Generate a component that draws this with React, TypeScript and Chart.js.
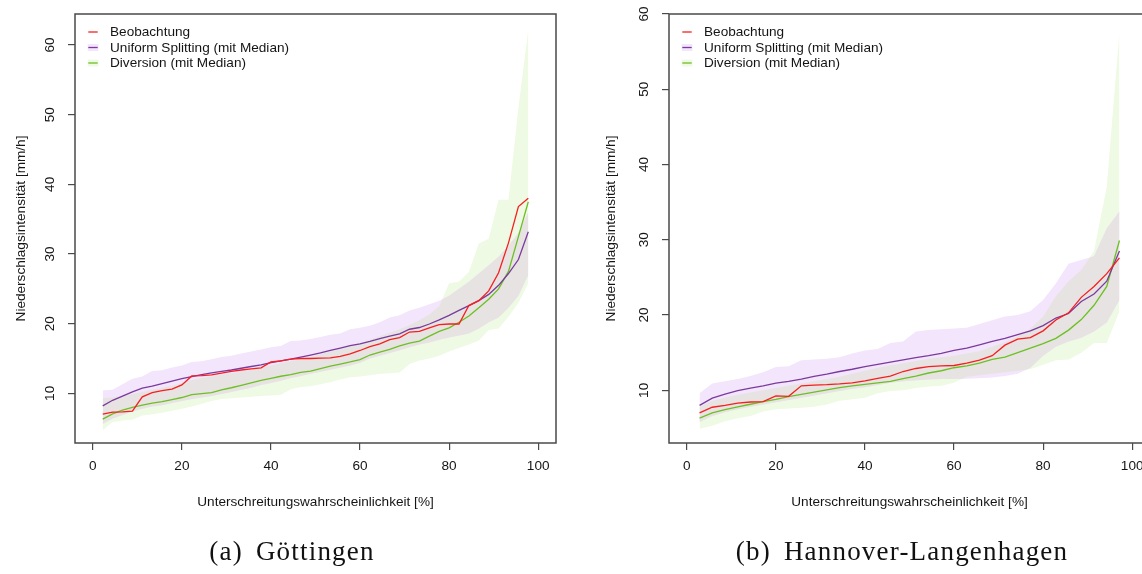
import React, { useEffect, useRef } from "react";
import { Chart, registerables } from "chart.js";

Chart.register(...registerables);

// ---------- text ----------
const xTickValues = [0, 20, 40, 60, 80, 100];
const yTickValues = [10, 20, 30, 40, 50, 60];
const legendLabels = ["Beobachtung", "Uniform Splitting (mit Median)", "Diversion (mit Median)"];
const xTitle = "Unterschreitungswahrscheinlichkeit [%]";
const yTitle = "Niederschlagsintensität [mm/h]";
const captionA = ["(a)", "Göttingen"];
const captionB = ["(b)", "Hannover-Langenhagen"];

// ---------- Göttingen (a) ----------
const gotPos = [2.22, 4.44, 6.67, 8.89, 11.11, 13.33, 15.56, 17.78, 20.0, 22.22, 24.44, 26.67, 28.89, 31.11, 33.33, 35.56, 37.78, 40.0, 42.22, 44.44, 46.67, 48.89, 51.11, 53.33, 55.56, 57.78, 60.0, 62.22, 64.44, 66.67, 68.89, 71.11, 73.33, 75.56, 77.78, 80.0, 82.22, 84.44, 86.67, 88.89, 91.11, 93.33, 95.56, 97.78];
const gotObs = [7.0, 7.3, 7.35, 7.45, 9.5, 10.1, 10.4, 10.6, 11.2, 12.5, 12.55, 12.65, 12.9, 13.15, 13.35, 13.5, 13.65, 14.5, 14.65, 14.9, 15.0, 15.0, 15.05, 15.1, 15.3, 15.65, 16.15, 16.7, 17.1, 17.7, 18.0, 18.8, 18.9, 19.4, 19.85, 19.95, 19.95, 22.6, 23.3, 24.7, 27.3, 31.6, 36.8, 38.0];
const gotUS = [8.2, 9.0, 9.6, 10.2, 10.75, 11.05, 11.4, 11.75, 12.1, 12.4, 12.7, 12.95, 13.15, 13.35, 13.6, 13.85, 14.1, 14.4, 14.65, 14.9, 15.2, 15.5, 15.8, 16.15, 16.5, 16.85, 17.1, 17.45, 17.85, 18.2, 18.55, 19.2, 19.45, 19.95, 20.55, 21.2, 21.9, 22.6, 23.3, 24.2, 25.5, 27.2, 29.2, 33.2];
const gotUSHi = [10.4, 10.5, 11.3, 12.1, 12.4, 13.2, 13.3, 13.7, 14.0, 14.5, 14.6, 14.9, 15.2, 15.4, 15.7, 16.0, 16.3, 16.6, 16.8, 17.5, 17.6, 17.8, 18.1, 18.4, 18.6, 19.2, 19.4, 19.7, 20.2, 20.9, 21.2, 21.9, 22.3, 22.8, 23.3, 24.0, 25.0, 26.0, 27.2, 28.4, 29.6, 31.2, 33.0, 36.0];
const gotUSLo = [5.6, 6.4, 6.9, 7.4, 7.8, 8.1, 8.3, 8.6, 8.9, 9.2, 9.4, 9.6, 9.9, 10.2, 10.5, 10.8, 11.2, 11.5, 11.8, 12.2, 12.5, 12.8, 13.1, 13.4, 13.7, 14.0, 14.4, 15.0, 15.4, 15.8, 16.2, 16.6, 17.0, 17.3, 17.7, 18.0, 18.3, 18.6, 19.3, 20.2, 20.9, 22.3, 24.0, 27.0];
const gotDiv = [6.3, 7.05, 7.6, 8.0, 8.3, 8.6, 8.8, 9.1, 9.4, 9.8, 9.95, 10.1, 10.5, 10.8, 11.15, 11.5, 11.85, 12.15, 12.45, 12.7, 13.0, 13.2, 13.55, 13.9, 14.2, 14.5, 14.85, 15.5, 15.9, 16.3, 16.8, 17.2, 17.5, 18.2, 18.9, 19.4, 20.2, 21.1, 22.3, 23.5, 25.0, 27.5, 32.5, 37.5];
const gotDivHi = [9.3, 9.4, 9.6, 9.9, 10.2, 10.5, 10.8, 11.1, 11.5, 11.9, 12.2, 12.4, 12.7, 12.9, 13.1, 13.4, 13.7, 14.0, 14.3, 14.6, 14.9, 15.2, 15.6, 16.0, 16.4, 16.8, 17.2, 17.7, 18.2, 18.7, 19.2, 19.8, 20.5, 21.3, 22.5, 25.8, 26.0, 27.4, 31.5, 32.2, 37.8, 37.8, 51.0, 62.2];
const gotDivLo = [4.7, 5.9, 6.1, 6.2, 6.8, 7.0, 7.2, 7.5, 7.8, 8.1, 8.5, 8.9, 9.2, 9.3, 9.4, 9.5, 9.6, 9.7, 9.8, 10.6, 10.9, 11.0, 11.3, 11.6, 12.0, 12.3, 12.4, 12.6, 12.8, 12.9, 13.0, 14.2, 14.7, 15.0, 15.4, 16.0, 16.5, 17.0, 17.6, 19.1, 19.3, 21.0, 23.0, 25.8];

// ---------- Hannover-Langenhagen (b) ----------
const hanPos = [2.86, 5.71, 8.57, 11.43, 14.29, 17.14, 20.0, 22.86, 25.71, 28.57, 31.43, 34.29, 37.14, 40.0, 42.86, 45.71, 48.57, 51.43, 54.29, 57.14, 60.0, 62.86, 65.71, 68.57, 71.43, 74.29, 77.14, 80.0, 82.86, 85.71, 88.57, 91.43, 94.29, 97.14];
const hanObs = [7.0, 7.75, 8.0, 8.3, 8.45, 8.5, 9.25, 9.2, 10.6, 10.7, 10.75, 10.85, 11.0, 11.25, 11.6, 11.9, 12.5, 12.9, 13.15, 13.25, 13.3, 13.6, 14.0, 14.6, 16.0, 16.8, 17.0, 17.9, 19.35, 20.3, 22.35, 23.8, 25.5, 27.6];
const hanUS = [8.0, 8.95, 9.5, 9.95, 10.3, 10.6, 10.95, 11.2, 11.5, 11.85, 12.15, 12.5, 12.8, 13.15, 13.45, 13.75, 14.05, 14.35, 14.6, 14.9, 15.3, 15.6, 16.05, 16.5, 16.9, 17.4, 17.9, 18.6, 19.6, 20.2, 21.8, 22.8, 24.5, 28.5];
const hanUSHi = [9.6, 10.9, 11.2, 11.5, 11.9, 12.4, 13.1, 13.2, 14.0, 14.1, 14.2, 14.4, 14.9, 15.3, 15.5, 16.3, 16.5, 17.8, 18.0, 18.1, 18.2, 18.3, 18.8, 19.3, 19.8, 20.0, 20.5, 22.0, 24.2, 26.8, 27.3, 27.8, 31.5, 33.8];
const hanUSLo = [5.8, 6.6, 7.1, 7.5, 7.8, 8.1, 8.4, 8.7, 9.0, 9.3, 9.6, 9.9, 10.2, 10.4, 10.7, 11.0, 11.2, 11.35, 11.45, 11.5, 11.5, 11.55, 11.6, 11.7, 11.9, 12.2, 13.0, 14.6, 15.8, 16.5, 17.0, 17.8, 19.0, 22.0];
const hanDiv = [6.3, 7.0, 7.45, 7.8, 8.15, 8.5, 8.8, 9.15, 9.45, 9.75, 10.05, 10.35, 10.6, 10.8, 11.0, 11.2, 11.55, 11.9, 12.3, 12.6, 13.0, 13.25, 13.6, 14.1, 14.4, 15.0, 15.6, 16.2, 16.9, 18.0, 19.4, 21.3, 23.8, 29.9];
const hanDivHi = [7.8, 8.6, 9.0, 9.4, 9.7, 10.0, 10.3, 10.6, 10.9, 11.2, 11.5, 11.8, 12.2, 12.6, 13.0, 13.3, 13.6, 13.9, 14.2, 14.4, 14.6, 14.9, 15.2, 15.8, 16.4, 17.2, 18.2, 19.8, 22.5, 24.5, 26.0, 28.5, 37.0, 57.6];
const hanDivLo = [4.9, 5.3, 5.9, 6.3, 6.6, 7.2, 7.5, 7.6, 7.7, 7.8, 8.1, 8.6, 8.8, 9.0, 9.6, 9.9, 10.0, 10.3, 10.5, 10.6, 11.0, 11.8, 12.0, 12.2, 12.4, 12.6, 12.8, 13.4, 14.0, 14.1, 15.0, 16.3, 16.3, 20.5];

// ---------- style ----------
const FONT = "'Liberation Sans', Arial, Helvetica, sans-serif";
const FSIZE = 13.6;
const COL = {
  obs: "#F81E1E",
  us: "#7A3B9C",
  div: "#6CC022",
  usBand: "#F3E5FC",
  divBand: "#EEFAE3",
  overlap: "#E7E3E3",
  axis: "#4a4a4a",
  text: "#151515",
};

type PanelCfg = {
  pos: number[]; obs: number[]; us: number[]; usHi: number[]; usLo: number[];
  div: number[]; divHi: number[]; divLo: number[];
  yMin: number; yMax: number;
  canvasLeft: number; canvasW: number; yAxisW: number; padRight: number; yTitlePad: number;
};

const zip = (xs: number[], ys: number[]) => xs.map((x, i) => ({ x, y: ys[i] }));

function polyPath(ctx: CanvasRenderingContext2D, hi: any[], lo: any[]) {
  ctx.moveTo(hi[0].x, hi[0].y);
  for (let i = 1; i < hi.length; i++) ctx.lineTo(hi[i].x, hi[i].y);
  for (let i = lo.length - 1; i >= 0; i--) ctx.lineTo(lo[i].x, lo[i].y);
  ctx.closePath();
}

const overlapPlugin = {
  id: "bandOverlap",
  beforeDatasetsDraw(chart: any) {
    const ctx = chart.ctx as CanvasRenderingContext2D;
    const a = chart.chartArea;
    const usLo = chart.getDatasetMeta(0).data;
    const usHi = chart.getDatasetMeta(1).data;
    const dLo = chart.getDatasetMeta(2).data;
    const dHi = chart.getDatasetMeta(3).data;
    ctx.save();
    ctx.beginPath();
    ctx.rect(a.left, a.top, a.right - a.left, a.bottom - a.top);
    ctx.clip();
    ctx.beginPath();
    polyPath(ctx, usHi, usLo);
    ctx.clip();
    ctx.beginPath();
    polyPath(ctx, dHi, dLo);
    ctx.fillStyle = COL.overlap;
    ctx.fill();
    ctx.restore();
  },
};

const decorPlugin = {
  id: "decor",
  afterDatasetsDraw(chart: any) {
    const ctx = chart.ctx as CanvasRenderingContext2D;
    const a = chart.chartArea;
    ctx.save();
    // box
    ctx.strokeStyle = COL.axis;
    ctx.lineWidth = 1.5;
    ctx.strokeRect(a.left, a.top, a.right - a.left, a.bottom - a.top);
    // legend
    const rows = [a.top + 18, a.top + 33.5, a.top + 49];
    const colors = [COL.obs, COL.us, COL.div];
    const boxes = [null, COL.usBand, COL.divBand];
    ctx.font = `${FSIZE}px ${FONT}`;
    ctx.textBaseline = "middle";
    ctx.textAlign = "left";
    for (let i = 0; i < 3; i++) {
      const y = rows[i];
      const b = boxes[i];
      if (b) {
        ctx.fillStyle = b;
        ctx.fillRect(a.left + 12.7, y - 3.4, 10.7, 6.8);
      }
      ctx.strokeStyle = colors[i];
      ctx.lineWidth = 1.3;
      ctx.beginPath();
      ctx.moveTo(a.left + 13.3, y);
      ctx.lineTo(a.left + 22.7, y);
      ctx.stroke();
      ctx.fillStyle = COL.text;
      ctx.fillText(legendLabels[i], a.left + 35, y + 0.5);
    }
    // rotated y tick labels
    const ys = chart.scales.y;
    ctx.textAlign = "center";
    ctx.textBaseline = "middle";
    for (const v of yTickValues) {
      const py = ys.getPixelForValue(v);
      ctx.save();
      ctx.translate(a.left - 25, py);
      ctx.rotate(-Math.PI / 2);
      ctx.fillText(String(v), 0, 0);
      ctx.restore();
    }
    ctx.restore();
  },
};

function buildConfig(c: PanelCfg): any {
  const band = (data: number[], fill: any, bg: string) => ({
    data: zip(c.pos, data),
    borderWidth: 0,
    borderColor: "rgba(0,0,0,0)",
    backgroundColor: bg,
    pointRadius: 0,
    fill,
    tension: 0,
  });
  const line = (data: number[], color: string) => ({
    data: zip(c.pos, data),
    borderColor: color,
    borderWidth: 1.3,
    pointRadius: 0,
    fill: false,
    tension: 0,
  });
  const font = { family: FONT, size: FSIZE };
  return {
    type: "line",
    data: {
      datasets: [
        band(c.usLo, false, COL.usBand),
        band(c.usHi, "-1", COL.usBand),
        band(c.divLo, false, COL.divBand),
        band(c.divHi, "-1", COL.divBand),
        line(c.obs, COL.obs),
        line(c.us, COL.us),
        line(c.div, COL.div),
      ],
    },
    options: {
      responsive: false,
      maintainAspectRatio: false,
      animation: false,
      devicePixelRatio: 1,
      events: [],
      layout: { padding: { top: 14, right: c.padRight, left: 0, bottom: 0 } },
      plugins: {
        legend: { display: false },
        tooltip: { enabled: false },
        filler: { drawTime: "beforeDatasetsDraw" },
      },
      scales: {
        x: {
          type: "linear",
          min: -4,
          max: 104,
          afterBuildTicks: (s: any) => { s.ticks = xTickValues.map((v) => ({ value: v })); },
          afterFit: (s: any) => { s.height = 131; },
          grid: { drawOnChartArea: false, drawTicks: true, tickLength: 7, color: COL.axis, lineWidth: 1.2 },
          border: { display: false },
          ticks: { font, color: COL.text, padding: 8, maxRotation: 0, minRotation: 0, autoSkip: false },
          title: { display: true, text: xTitle, font, color: COL.text, padding: { top: 0, bottom: 64 } },
        },
        y: {
          type: "linear",
          min: c.yMin,
          max: c.yMax,
          afterBuildTicks: (s: any) => { s.ticks = yTickValues.map((v) => ({ value: v })); },
          afterFit: (s: any) => { s.width = c.yAxisW; },
          grid: { drawOnChartArea: false, drawTicks: true, tickLength: 7, color: COL.axis, lineWidth: 1.2 },
          border: { display: false },
          ticks: { display: false },
          title: { display: true, text: yTitle, font, color: COL.text, padding: { top: c.yTitlePad, bottom: 0 } },
        },
      },
    },
    plugins: [overlapPlugin, decorPlugin],
  };
}

function Panel({ cfg }: { cfg: PanelCfg }) {
  const ref = useRef<HTMLCanvasElement>(null);
  useEffect(() => {
    const chart = new Chart(ref.current as HTMLCanvasElement, buildConfig(cfg));
    return () => chart.destroy();
  }, []);
  return (
    <canvas
      ref={ref}
      width={cfg.canvasW}
      height={574}
      style={{ position: "absolute", left: cfg.canvasLeft, top: 0, width: cfg.canvasW, height: 574 }}
    />
  );
}

const panelA: PanelCfg = {
  pos: gotPos, obs: gotObs, us: gotUS, usHi: gotUSHi, usLo: gotUSLo,
  div: gotDiv, divHi: gotDivHi, divLo: gotDivLo,
  yMin: 2.87, yMax: 64.45,
  canvasLeft: 0, canvasW: 580, yAxisW: 75, padRight: 24, yTitlePad: 12.8,
};

const panelB: PanelCfg = {
  pos: hanPos, obs: hanObs, us: hanUS, usHi: hanUSHi, usLo: hanUSLo,
  div: hanDiv, divHi: hanDivHi, divLo: hanDivLo,
  yMin: 3.0, yMax: 60.0,
  canvasLeft: 571, canvasW: 590, yAxisW: 98, padRight: 11, yTitlePad: 32.5,
};

const captionStyle: React.CSSProperties = {
  position: "absolute",
  top: 535,
  width: 420,
  textAlign: "center",
  fontFamily: "'Liberation Serif', 'Times New Roman', serif",
  fontSize: 27,
  lineHeight: "32px",
  color: "#111",
  whiteSpace: "nowrap",
  letterSpacing: "1.2px",
};

function Caption({ parts, center }: { parts: string[]; center: number }) {
  return (
    <div style={{ ...captionStyle, left: center - 210 }}>
      <span>{parts[0]}</span>
      <span style={{ marginLeft: 13 }}>{parts[1]}</span>
    </div>
  );
}

export default function App() {
  return (
    <div
      style={{
        position: "fixed",
        left: 0,
        top: 0,
        width: 1142,
        height: 574,
        overflow: "hidden",
        background: "#fff",
      }}
    >
      <Panel cfg={panelA} />
      <Panel cfg={panelB} />
      <Caption parts={captionA} center={292} />
      <Caption parts={captionB} center={902} />
    </div>
  );
}
